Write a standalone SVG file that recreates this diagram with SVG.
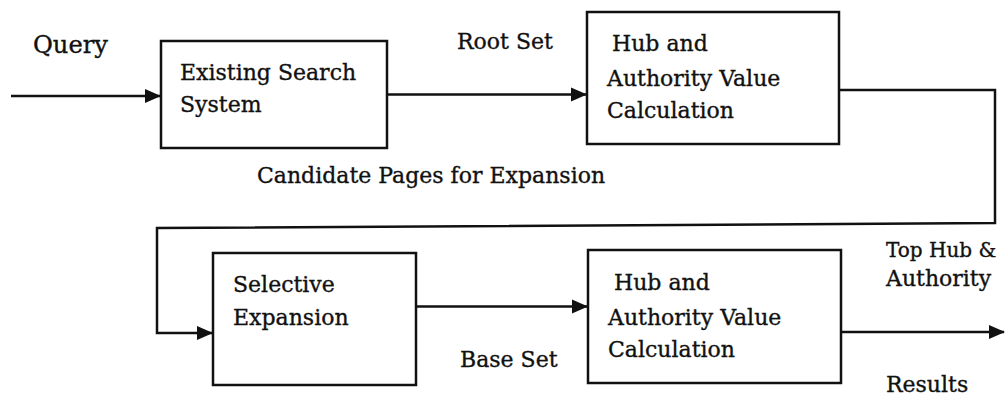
<svg xmlns="http://www.w3.org/2000/svg" width="1005" height="396" viewBox="0 0 1005 396">
<style>
.box{fill:#fff;stroke:#111;stroke-width:2.5}
.ln{fill:none;stroke:#111;stroke-width:2.5}
text{font-family:"DejaVu Serif","Liberation Serif",serif;font-size:22px;fill:#111;stroke:#111;stroke-width:0.35}
</style>
<defs>
<marker id="ah" markerUnits="userSpaceOnUse" markerWidth="16" markerHeight="16" viewBox="0 0 16 16" refX="15" refY="8" orient="auto">
<path d="M0,1 L16,8 L0,15 z" fill="#111"/>
</marker>
</defs>
<rect width="1005" height="396" fill="#fff"/>
<g id="connectors">
<line class="ln" x1="11" y1="96" x2="160" y2="96" marker-end="url(#ah)"/>
<line class="ln" x1="387" y1="94.5" x2="586" y2="94.5" marker-end="url(#ah)"/>
<polyline class="ln" points="839,90 995,90 995,223 157,228 157,333 212,333" marker-end="url(#ah)"/>
<line class="ln" x1="416" y1="306.5" x2="587" y2="306.5" marker-end="url(#ah)"/>
<line class="ln" x1="841" y1="332" x2="1004" y2="332" marker-end="url(#ah)"/>
</g>
<g id="labels">
<text x="33" y="53" style="font-size:24px" textLength="75" lengthAdjust="spacingAndGlyphs">Query</text>
<text x="457" y="49">Root Set</text>
<text x="257" y="183">Candidate Pages for Expansion</text>
<text x="886" y="257" style="font-size:20px">Top Hub &amp;</text>
<text x="886" y="286">Authority</text>
<text x="460" y="367">Base Set</text>
<text x="886" y="392">Results</text>
</g>
<g id="existing-search">
<rect class="box" x="161" y="41" width="226" height="107"/>
<text x="180" y="80">Existing Search</text>
<text x="180" y="112">System</text>
</g>
<g id="hub-authority-1">
<rect class="box" x="587" y="12" width="252" height="132"/>
<text x="612" y="51">Hub and</text>
<text x="607" y="86">Authority Value</text>
<text x="607" y="118">Calculation</text>
</g>
<g id="selective-expansion">
<rect class="box" x="213" y="253" width="203" height="132"/>
<text x="233" y="292">Selective</text>
<text x="233" y="325">Expansion</text>
</g>
<g id="hub-authority-2">
<rect class="box" x="588" y="250" width="253" height="133"/>
<text x="614" y="290">Hub and</text>
<text x="608" y="325">Authority Value</text>
<text x="608" y="357">Calculation</text>
</g>
</svg>
